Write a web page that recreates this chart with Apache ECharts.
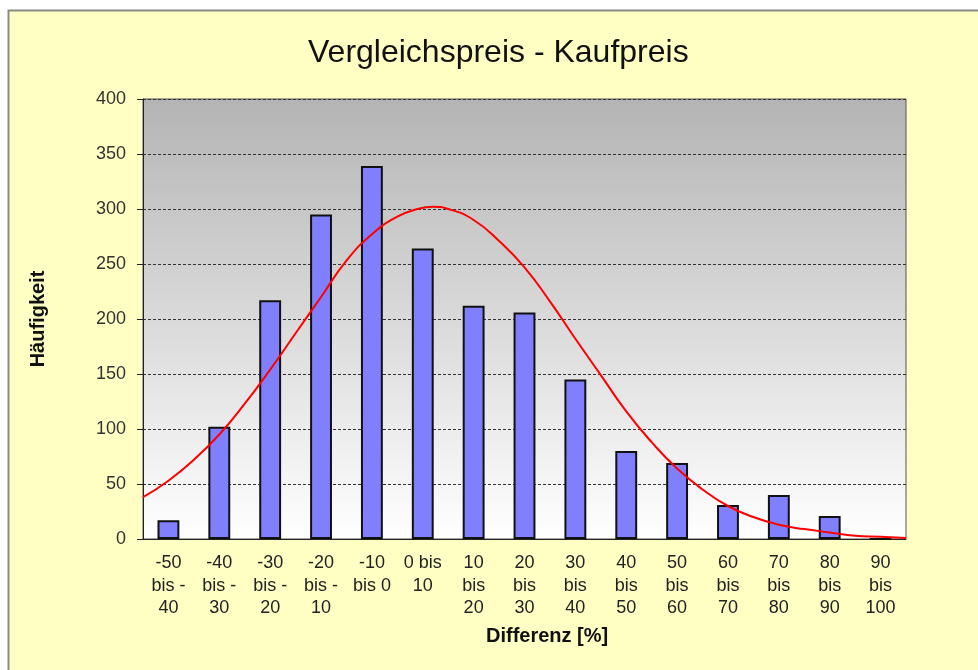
<!DOCTYPE html>
<html>
<head>
<meta charset="utf-8">
<title>Vergleichspreis - Kaufpreis</title>
<script src="https://cdn.jsdelivr.net/npm/echarts@6/dist/echarts.min.js"></script>
<style>
    html, body { margin: 0; padding: 0; background: #fff; }
    #chart { width: 978px; height: 670px; }
</style>
</head>
<body>
<div id="chart"></div>
<script>
// Klassen (Differenz in %)
var categories = [
    '-50\nbis -\n40', '-40\nbis -\n30', '-30\nbis -\n20', '-20\nbis -\n10', '-10\nbis 0',
    '0 bis\n10', '10\nbis\n20', '20\nbis\n30', '30\nbis\n40', '40\nbis\n50',
    '50\nbis\n60', '60\nbis\n70', '70\nbis\n80', '80\nbis\n90', '90\nbis\n100'
];
var counts = [17, 102, 217, 295, 339, 264, 212, 206, 145, 80, 69, 31, 40, 21, 0];

// Normalverteilungskurve
var curveX = [-50, -45, -40, -35, -30, -25, -20, -15, -10, -5, 0, 4, 7, 10, 15, 20, 25,
              30, 35, 40, 45, 50, 55, 60, 65, 70, 75, 80, 85, 90, 95, 100];
var curveY = [38, 53, 72, 95, 123, 154, 187, 220, 253, 277, 293, 300, 302, 300, 290, 271, 247,
              216, 182, 149, 116, 88, 64, 45, 30, 20, 13, 9, 6, 3, 2, 1];

var yTicks = [0, 400, 50];

var curveData = curveX.map(function (x, i) { return [x, curveY[i]]; });

var myChart = echarts.init(document.getElementById('chart'));
var font = '"Liberation Sans", Arial, sans-serif';

var option = {
    backgroundColor: '#fff',
    animation: false,
    graphic: [
        {
            type: 'rect',
            z: -10,
            shape: { x: 8.5, y: 10.5, width: 980, height: 670 },
            style: { fill: '#FFFFC4', stroke: '#8a8a8a', lineWidth: 2 }
        },
        {
            type: 'text',
            left: 486,
            top: 626,
            style: {
                text: 'Differenz [%]',
                font: 'bold 20px ' + font,
                fill: '#111'
            }
        }
    ],
    title: {
        text: 'Vergleichspreis - Kaufpreis',
        left: 303,
        top: 32,
        textStyle: { fontFamily: font, fontSize: 32, fontWeight: 'normal', color: '#111' }
    },
    grid: {
        left: 143,
        right: 72,
        top: 99,
        bottom: 131,
        show: true,
        borderColor: '#555',
        borderWidth: 1,
        backgroundColor: new echarts.graphic.LinearGradient(0, 0, 0, 1, [
            { offset: 0, color: '#B4B4B4' },
            { offset: 1, color: '#FFFFFF' }
        ])
    },
    xAxis: [
        {
            type: 'category',
            data: categories,
            axisLine: { lineStyle: { color: '#222', width: 1 } },
            axisTick: { length: 6, lineStyle: { color: '#222' } },
            axisLabel: {
                interval: 0,
                fontFamily: font,
                fontSize: 18,
                color: '#222',
                lineHeight: 22.5,
                margin: 13
            }
        },
        {
            type: 'value',
            min: -50,
            max: 100,
            show: false
        }
    ],
    yAxis: {
        type: 'value',
        min: yTicks[0],
        max: yTicks[1],
        interval: yTicks[2],
        name: 'Häufigkeit',
        nameLocation: 'middle',
        nameRotate: 90,
        nameGap: 95,
        nameTextStyle: { fontFamily: font, fontSize: 20, fontWeight: 'bold', color: '#111' },
        axisLine: { show: true, onZero: false, lineStyle: { color: '#222' } },
        axisTick: { show: true, length: 6, lineStyle: { color: '#222' } },
        axisLabel: { fontFamily: font, fontSize: 18, color: '#333', margin: 17 },
        splitLine: { lineStyle: { color: '#333', type: [3, 2], width: 1 } }
    },
    series: [
        {
            name: 'Häufigkeit',
            type: 'bar',
            data: counts,
            barWidth: '43%',
            itemStyle: { color: '#8080FF', borderColor: '#111', borderWidth: 2 }
        },
        {
            name: 'Normalverteilung',
            type: 'line',
            xAxisIndex: 1,
            data: curveData,
            smooth: true,
            showSymbol: false,
            lineStyle: { color: '#FF0000', width: 2 },
            z: 5
        }
    ]
};

if (option && typeof option === 'object') {
    myChart.setOption(option, true);
}
</script>
</body>
</html>
